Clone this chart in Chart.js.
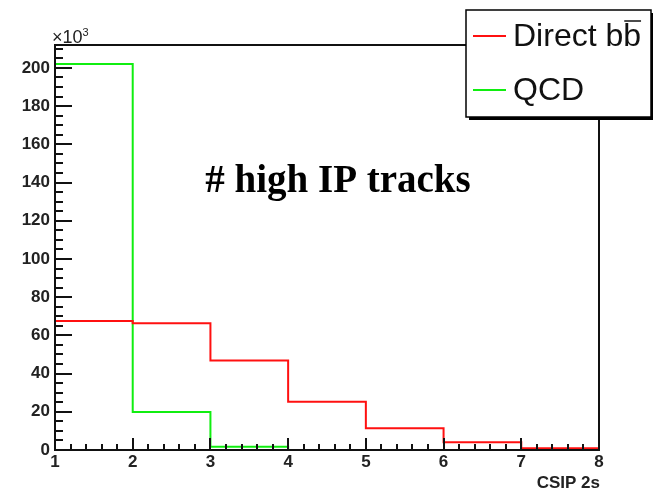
<!DOCTYPE html>
<html>
<head>
<meta charset="utf-8">
<title># high IP tracks</title>
<script src="https://cdn.jsdelivr.net/npm/chart.js@4.4.1/dist/chart.umd.min.js"></script>
<style>
  html, body { margin: 0; padding: 0; background: #fff; overflow: hidden; }
  #c { display: block; }
</style>
</head>
<body>
<canvas id="c" width="653" height="492"></canvas>
<script>
// Bin edges of the CSIP 2s histogram (7 unit-wide bins from 1 to 8)
const binEdges = [1, 2, 3, 4, 5, 6, 7, 8];
// Bin contents, in units of 10^3 entries
const directBB = [67.5, 66.4, 46.8, 25.3, 11.4, 4.0, 0.9];
const qcd = [202, 19.9, 1.7, 0, 0, 0, 0];
// Axis tick labels
const xTickValues = [1, 2, 3, 4, 5, 6, 7, 8];
const yTickValues = [0, 20, 40, 60, 80, 100, 120, 140, 160, 180, 200];
const seriesNames = ['Direct bb', 'QCD'];

// Turn bin contents into step points at the left edge of each bin,
// closing the last bin at the upper edge.
function toSteps(values) {
  const pts = values.map((v, i) => ({ x: binEdges[i], y: v }));
  pts.push({ x: binEdges[binEdges.length - 1], y: values[values.length - 1] });
  return pts;
}

const FRAME = '#111';

// Frame, inward ticks, exponent, axis title, caption and legend box
const decorations = {
  id: 'decorations',
  afterDatasetsDraw(chart) {
    const { ctx, chartArea: a, scales: { x, y } } = chart;
    ctx.save();
    ctx.strokeStyle = FRAME;
    ctx.lineWidth = 2;
    ctx.lineCap = 'butt';

    // y ticks: major every 20, minor every 5
    const yMaj = 17, yMin = 8;
    ctx.beginPath();
    for (let v = 0; v <= y.max + 1e-9; v += 5) {
      const py = Math.round(y.getPixelForValue(v));
      const len = (v % 20 === 0) ? yMaj : yMin;
      ctx.moveTo(a.left, py);
      ctx.lineTo(a.left + len, py);
    }
    // x ticks: major every 1, minor every 0.2
    const xMaj = 12, xMin = 6;
    for (let i = 0; i <= 35; i++) {
      const v = 1 + i * 0.2;
      const px = Math.round(x.getPixelForValue(v));
      const len = (i % 5 === 0) ? xMaj : xMin;
      ctx.moveTo(px, a.bottom);
      ctx.lineTo(px, a.bottom - len);
    }
    ctx.stroke();

    // plot frame
    ctx.strokeRect(a.left, a.top, a.right - a.left, a.bottom - a.top);

    // exponent of the y axis
    ctx.fillStyle = '#222';
    ctx.textBaseline = 'alphabetic';
    ctx.textAlign = 'left';
    ctx.font = '18px "Liberation Sans", Arial, sans-serif';
    ctx.fillText('\u00d710', 52, 43);
    const w10 = ctx.measureText('\u00d710').width;
    ctx.font = '11px "Liberation Sans", Arial, sans-serif';
    ctx.fillText('3', 52 + w10, 36);

    // x axis title
    ctx.font = 'bold 17px "Liberation Sans", Arial, sans-serif';
    ctx.textAlign = 'right';
    ctx.fillText('CSIP 2s', a.right + 1, 488);

    // caption inside the frame
    ctx.fillStyle = '#000';
    ctx.textAlign = 'center';
    ctx.font = 'bold 39px "Liberation Serif", "Times New Roman", serif';
    ctx.fillText('# high IP tracks', 338, 192);

    // legend box with drop shadow
    const lx = 466, ly = 10, lw = 185, lh = 107;
    ctx.fillStyle = '#000';
    ctx.fillRect(lx + 3, ly + 3, lw, lh);
    ctx.fillStyle = '#fff';
    ctx.fillRect(lx, ly, lw, lh);
    ctx.lineWidth = 1.5;
    ctx.strokeStyle = '#000';
    ctx.strokeRect(lx, ly, lw, lh);

    const entries = chart.data.datasets;
    const rowsY = [36, 90];
    ctx.textAlign = 'left';
    ctx.textBaseline = 'middle';
    ctx.font = '32px "Liberation Sans", Arial, sans-serif';
    entries.forEach((ds, i) => {
      const ry = rowsY[i];
      ctx.strokeStyle = ds.borderColor;
      ctx.lineWidth = 2;
      ctx.beginPath();
      ctx.moveTo(473, ry);
      ctx.lineTo(506, ry);
      ctx.stroke();
      ctx.fillStyle = '#111';
      ctx.fillText(ds.label, 513, ry + 1);
      if (i === 0) {
        // bar over the second b of "bb"
        const full = ctx.measureText(ds.label).width;
        const bw = ctx.measureText('b').width;
        ctx.strokeStyle = '#111';
        ctx.lineWidth = 1.5;
        ctx.beginPath();
        ctx.moveTo(513 + full - bw + 1, 21);
        ctx.lineTo(513 + full, 21);
        ctx.stroke();
      }
    });
    ctx.restore();
  }
};

new Chart(document.getElementById('c'), {
  type: 'line',
  data: {
    datasets: [
      {
        label: seriesNames[0],
        data: toSteps(directBB),
        borderColor: '#ff1010',
        borderWidth: 2,
        stepped: true,
        pointRadius: 0,
        fill: false
      },
      {
        label: seriesNames[1],
        data: toSteps(qcd),
        borderColor: '#10ee10',
        borderWidth: 2,
        stepped: true,
        pointRadius: 0,
        fill: false
      }
    ]
  },
  options: {
    responsive: false,
    animation: false,
    events: [],
    layout: { padding: { top: 45, right: 54, left: 0, bottom: 0 } },
    plugins: {
      legend: { display: false },
      tooltip: { enabled: false }
    },
    scales: {
      x: {
        type: 'linear',
        min: binEdges[0],
        max: binEdges[binEdges.length - 1],
        grid: { display: false, drawTicks: false },
        border: { display: false },
        afterBuildTicks: s => { s.ticks = xTickValues.map(v => ({ value: v })); },
        afterFit: s => { s.height = 42; },
        ticks: {
          padding: 2,
          maxRotation: 0,
          autoSkip: false,
          color: '#222',
          font: { family: '"Liberation Sans", Arial, sans-serif', size: 17, weight: 'bold' }
        }
      },
      y: {
        type: 'linear',
        min: 0,
        max: 212,
        grid: { display: false, drawTicks: false },
        border: { display: false },
        afterBuildTicks: s => { s.ticks = yTickValues.map(v => ({ value: v })); },
        afterFit: s => { s.width = 55; },
        ticks: {
          padding: 5,
          autoSkip: false,
          color: '#222',
          font: { family: '"Liberation Sans", Arial, sans-serif', size: 17, weight: 'bold' }
        }
      }
    }
  },
  plugins: [decorations]
});
</script>
</body>
</html>
